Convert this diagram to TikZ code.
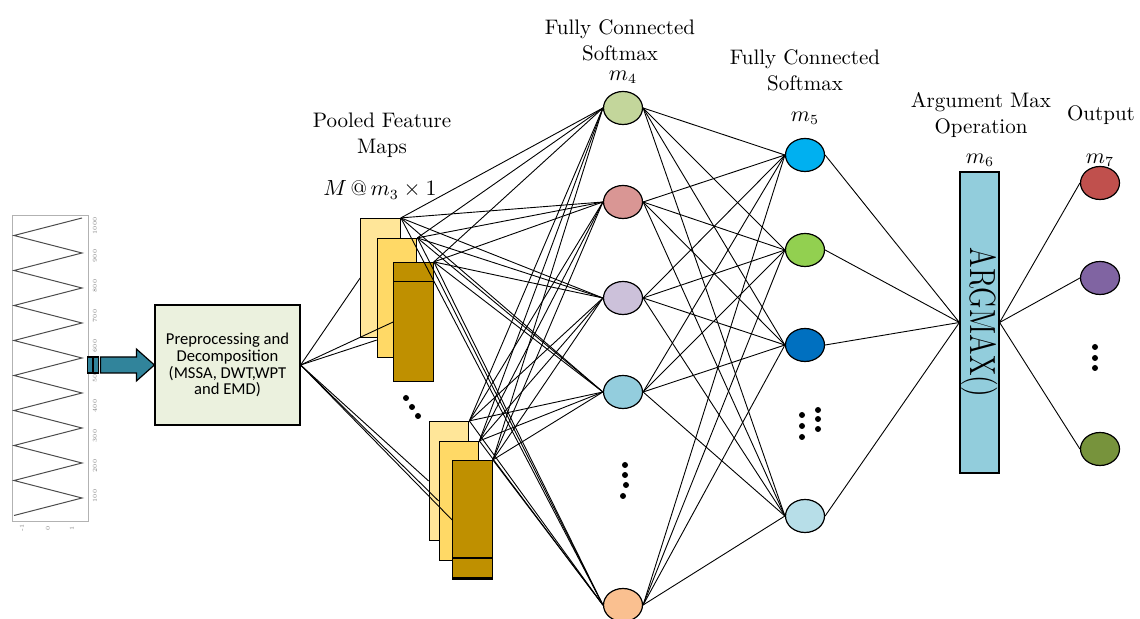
\documentclass[tikz,border=0pt]{standalone}
\usepackage{fontspec}
\newfontfamily\calibri{Carlito}
\usetikzlibrary{shapes.geometric,calc,positioning}
\definecolor{prefill}{HTML}{EBF1DE}
\definecolor{argfill}{HTML}{92CDDC}
\definecolor{arrowteal}{HTML}{31849B}
\definecolor{mapback}{HTML}{FFE699}
\definecolor{mapmid}{HTML}{FFD966}
\definecolor{mapfront}{HTML}{BF9000}
\begin{document}
\begin{tikzpicture}[x=0.5pt,y=-0.5pt,
  every node/.style={font=\fontsize{10.5}{13}\selectfont},
  neuron/.style={ellipse,draw,line width=0.6pt,inner sep=0pt,minimum width=19.5pt,minimum height=16.5pt},
  fmap/.style={draw,line width=0.6pt,inner sep=0pt,minimum width=19.75pt,minimum height=59.5pt},
  link/.style={line width=0.45pt},
  dot/.style={fill=black}]
\useasboundingbox (0,0) rectangle (1140,619);
% input signal
\draw[gray!60,line width=0.4pt] (12,215) rectangle (88,521);
\draw[gray!60!black,line width=0.5pt] (82,218) \foreach \i in {1,...,17} { -- ({82-68*mod(\i,2)},{218+\i*17.5}) };
\foreach \v [count=\k] in {1000,900,...,100}
  \node[rotate=90,font=\fontsize{3}{3}\selectfont,text=gray] (t\k) at (95,{196+\k*30}) {\v};
\foreach \v/\x [count=\k] in {-1/22,0/48,1/72}
  \node[rotate=90,font=\fontsize{3}{3}\selectfont,text=gray] (b\k) at (\x,528) {\v};

% preprocessing
\node[draw,line width=0.6pt,fill=prefill,minimum width=72.5pt,minimum height=60pt,align=center,
  font=\calibri\fontsize{8.3}{8.4}\selectfont] (pre) at (227.5,365)
  {Preprocessing and\\Decomposition\\(MSSA, DWT,WPT\\and EMD)};
\draw[fill=arrowteal,line width=0.6pt] (pre.west) -- ++(-18,-16) -- ++(0,8) -- ++(-36,0) -- ++(0,16) -- ++(36,0) -- ++(0,8) -- cycle;
\draw[fill=arrowteal,line width=0.6pt] ($(pre.west)+(-67,-8)$) rectangle ++(5,16);
\draw[fill=arrowteal,line width=0.6pt] ($(pre.west)+(-61,-8)$) rectangle ++(5,16);

% pooled feature maps
\node[fmap,fill=mapback] (b1) at (380.5,278) {};
\node[fmap,fill=mapmid] (m1) at (397,298) {};
\node[fmap,fill=mapfront] (f1) at (413.5,322) {};
\draw[line width=0.6pt] ($(f1.north west)+(0,20)$) -- ($(f1.north east)+(0,20)$);
\node[fmap,fill=mapback] (b2) at (449,481) {};
\node[fmap,fill=mapmid] (m2) at (459,501) {};
\node[fmap,fill=mapfront] (f2) at (472.5,520) {};
\draw[line width=0.6pt] ($(f2.south west)+(0,-22)$) -- ($(f2.south east)+(0,-22)$);
\draw[line width=0.6pt] ($(f2.south west)+(0,-2)$) -- ($(f2.south east)+(0,-2)$);
\foreach \x/\y in {406/398,412/407,418/416}
  \fill[dot] (\x,\y) circle[radius=1.5pt];

\draw[link] (pre.east) -- (b1.west);
\draw[link] (pre.east) -- ($(m1.south west)+(0,-18)$);
\draw[link] (pre.east) -- (f1.west);
\draw[link] (pre.east) -- (b2.west);
\draw[link] (pre.east) -- (m2.west);
\draw[link] (pre.east) -- (f2.west);

\node[align=center] (lpool) at (382,135) {Pooled Feature\\Maps};
\node (lm3) at (380,190) {$M\,@\,m_3\times 1$};

% fully connected m4
\node[neuron,fill={rgb,255:red,195;green,214;blue,155}] (h1) at (623,108) {};
\node[neuron,fill={rgb,255:red,217;green,150;blue,148}] (h2) at (623,202) {};
\node[neuron,fill={rgb,255:red,204;green,193;blue,218}] (h3) at (623,298) {};
\node[neuron,fill={rgb,255:red,147;green,205;blue,221}] (h4) at (623,392) {};
\node[neuron,fill={rgb,255:red,250;green,192;blue,144}] (h5) at (623,605) {};
\foreach \x/\y in {625/465,625/475,626/485,623/496}
  \fill[dot] (\x,\y) circle[radius=1.5pt];
\node[align=center] (l4) at (620,40) {Fully Connected\\Softmax};
\node (lm4) at (623,77) {$m_4$};

\foreach \r in {b1,m1,f1,b2,m2,f2}
  \foreach \n in {1,...,5}
    \draw[link] (\r.north east) -- (h\n.west);

% fully connected m5
\node[neuron,fill={rgb,255:red,0;green,176;blue,240}] (s1) at (805,155) {};
\node[neuron,fill={rgb,255:red,146;green,208;blue,80}] (s2) at (805,250) {};
\node[neuron,fill={rgb,255:red,0;green,112;blue,192}] (s3) at (805,345) {};
\node[neuron,fill={rgb,255:red,183;green,222;blue,232}] (s4) at (805,516) {};
\foreach \x/\y in {802/415,802/426,802/437,818/410,818/419,818/429}
  \fill[dot] (\x,\y) circle[radius=1.5pt];
\node[align=center] (l5) at (805,70) {Fully Connected\\Softmax};
\node (lm5) at (805,118) {$m_5$};

\foreach \a in {1,...,5}
  \foreach \b in {1,...,4}
    \draw[link] (h\a.east) -- (s\b.west);

% argmax
\node[draw,line width=0.6pt,fill=argfill,minimum width=19.5pt,minimum height=150.5pt,inner sep=0pt] (am) at (979.5,322.5)
  {\rotatebox{-90}{\fontsize{14}{14}\selectfont\scalebox{1}[1.3]{ARGMAX()}}};
\node[align=center] (l6) at (981,115) {Argument Max\\Operation};
\node (lm6) at (980,160) {$m_6$};
\foreach \b in {1,...,4}
  \draw[link] (s\b.east) -- (am.west);

% output
\node[neuron,fill={rgb,255:red,192;green,80;blue,77}] (o1) at (1100,183) {};
\node[neuron,fill={rgb,255:red,128;green,100;blue,162}] (o2) at (1100,278) {};
\node[neuron,fill={rgb,255:red,119;green,147;blue,60}] (o3) at (1100,449) {};
\foreach \y in {347,358,368}
  \fill[dot] (1095,\y) circle[radius=1.5pt];
\node (l7) at (1101,115) {Output};
\node (lm7) at (1100,160) {$m_7$};
\foreach \c in {1,2,3}
  \draw[link] (am.east) -- (o\c.west);
\end{tikzpicture}
\end{document}
